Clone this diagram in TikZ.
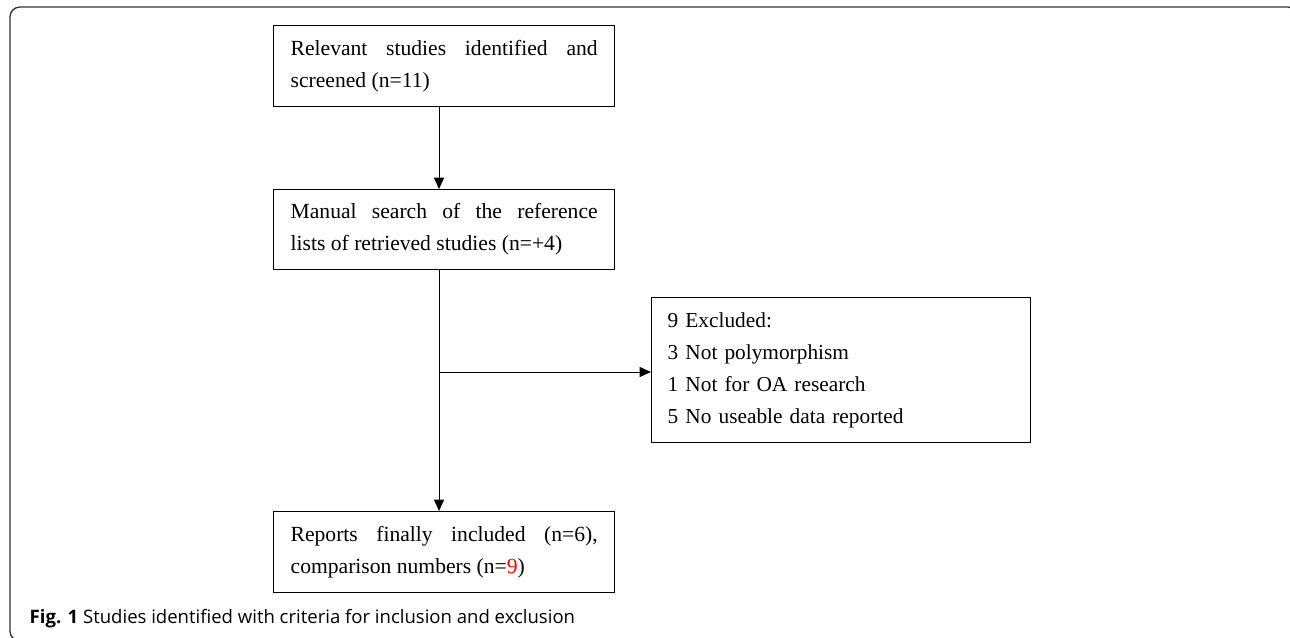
\documentclass[tikz,border=0pt]{standalone}
\usepackage{fontspec}
\setmainfont{Liberation Serif}
\newfontfamily\capfont{Open Sans}
\usepackage{xcolor}
\usetikzlibrary{arrows.meta, positioning}

\begin{document}
\begin{tikzpicture}[x=0.75pt,y=-0.75pt,
  flowbox/.style={draw, line width=1pt, anchor=north west, inner xsep=12.75pt, inner ysep=0pt,
    text width=230.25pt, align=justify, font=\fontsize{16.2}{24}\selectfont},
  exbox/.style={draw, line width=1pt, anchor=north west, inner xsep=12pt, inner ysep=0pt,
    text width=260.25pt, align=left, font=\fontsize{16}{24}\selectfont},
  flowarrow/.style={-{Triangle[length=8.5pt,width=7.5pt]}, line width=0.75pt}]
\useasboundingbox (0,0) rectangle (1290,637);
% outer frame
\draw[black!80, line width=1pt, rounded corners=7.5pt] (10,7) rectangle (1298,641);
% boxes
\node[flowbox, minimum height=60.75pt] (found) at (273,25)
  {Relevant studies identified and\linebreak screened (n=11)};
\node[flowbox, minimum height=60pt] (manual) at (273,189)
  {Manual search of the reference\linebreak lists of retrieved studies (n=+4)};
\node[exbox, minimum height=108.75pt] (excl) at (651,297)
  {9 Excluded:\\3 Not polymorphism\\1 Not for OA research\\5 No useable data reported};
\node[flowbox, minimum height=60.75pt] (final) at (273,511)
  {Reports finally included (n=6),\linebreak comparison numbers (n=\textcolor{red}{9})};
% connectors
\coordinate (spine) at (439,0);
\coordinate (fork) at (439,372);
\draw[flowarrow] (found.south -| spine) -- (manual.north -| spine);
\draw[flowarrow] (manual.south -| spine) -- (final.north -| spine);
\draw[flowarrow] (fork) -- (fork -| excl.west);
% caption
\node[anchor=base west, font=\capfont\fontsize{13.9}{15}\selectfont] (caption) at (25,623)
  {\textbf{Fig. 1} Studies identified with criteria for inclusion and exclusion};
\end{tikzpicture}
\end{document}
